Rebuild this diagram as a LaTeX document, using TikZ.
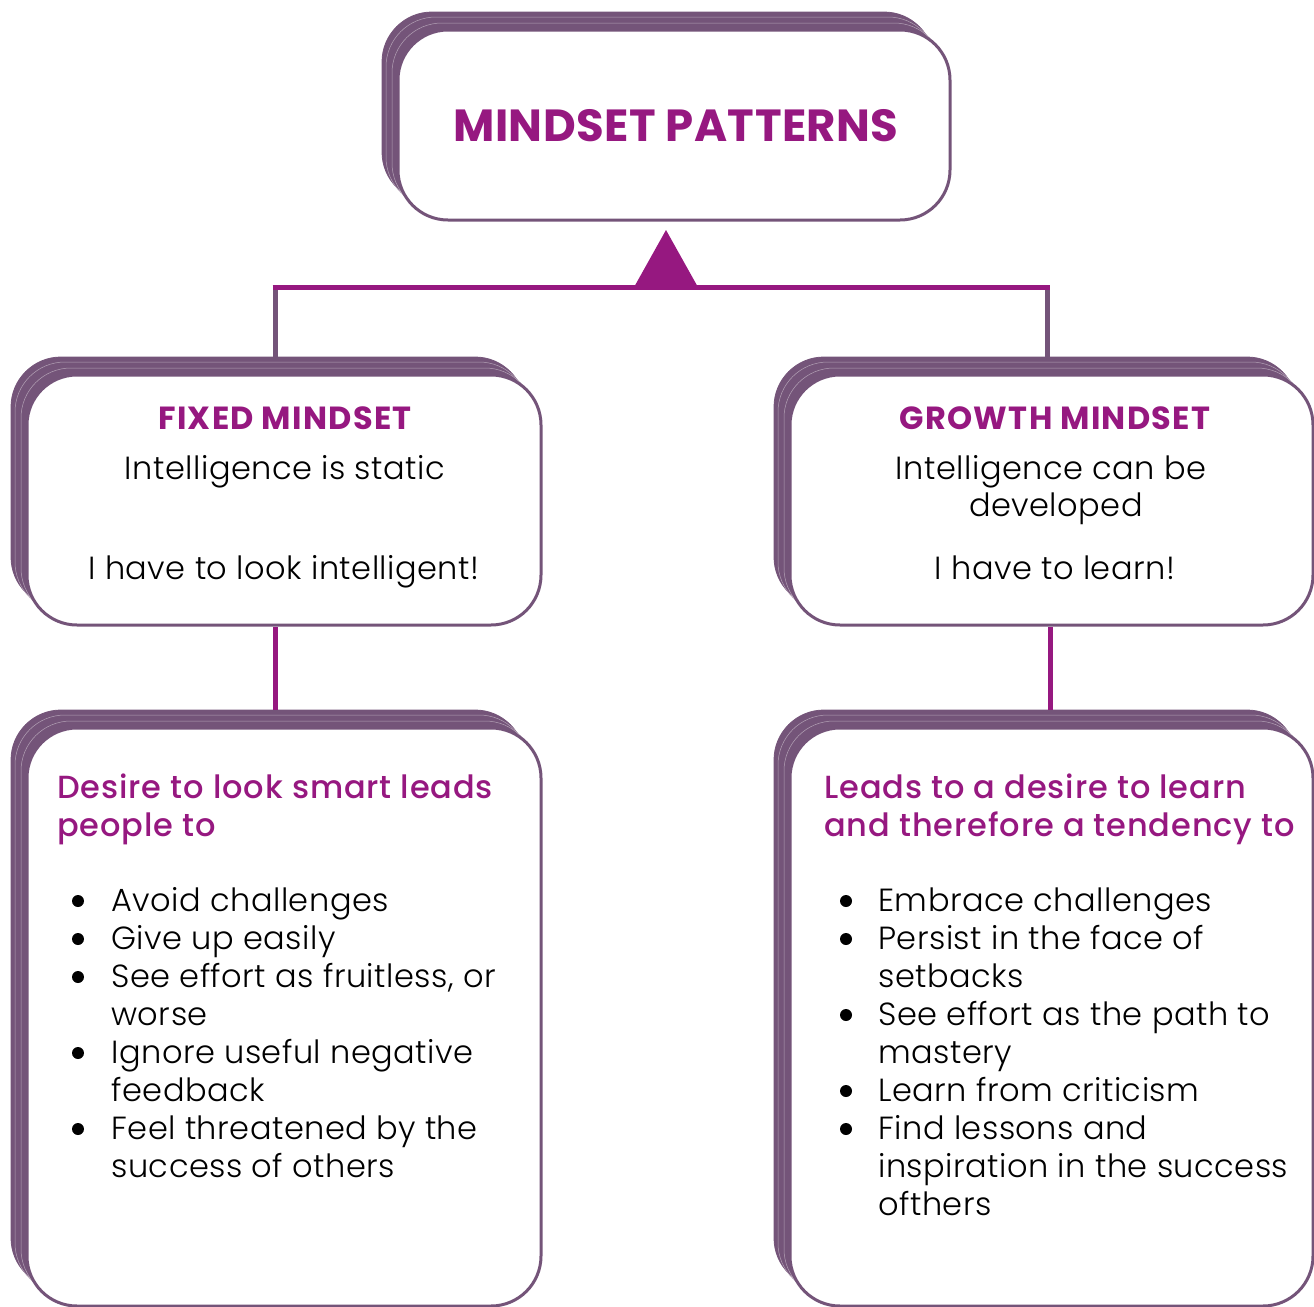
\documentclass[tikz,border=0pt]{standalone}
\usepackage{fontspec}
\setmainfont{Poppins}[UprightFont=* Light, BoldFont=* Bold, LetterSpace=1.5]
\newfontfamily\mediumfont{Poppins Medium}[LetterSpace=2.7]
\newfontfamily\titlefont{Poppins Bold}[LetterSpace=4]
\newfontfamily\headfont{Poppins Bold}[LetterSpace=1]
\usetikzlibrary{positioning}
\definecolor{mindgrey}{RGB}{116,84,121}
\definecolor{mindmagenta}{RGB}{150,24,128}
\tikzset{
    box back/.style={
        fill=mindgrey,
        draw=mindgrey,
        rounded corners=25pt,
        anchor=north west,
        inner sep=0,
        outer sep=0,
    },
    box layer/.style={
        draw=mindgrey!55!white,
        line width=0.25pt,
        rounded corners=25pt,
        anchor=north west,
        inner sep=0,
        outer sep=0,
    },
    box front/.style={
        fill=white,
        draw=mindgrey,
        line width=1.5pt,
        rounded corners=25pt,
        anchor=north west,
        inner sep=0,
        outer sep=0,
    },
    trunk link/.style={
        draw=mindgrey,
        line width=2.5pt,
    },
    branch link/.style={
        draw=mindmagenta,
        line width=2.5pt,
    },
    box title/.style={
        font=\fontsize{16}{19}\selectfont\titlefont,
        text=mindmagenta,
        anchor=base,
        inner sep=0,
    },
    box text/.style={
        font=\fontsize{16}{19}\selectfont,
        anchor=base,
        inner sep=0,
    },
    list head/.style={
        font=\fontsize{16}{19}\selectfont\mediumfont,
        text=mindmagenta,
        anchor=base west,
        inner sep=0,
    },
    list line/.style={
        font=\fontsize{16}{19}\selectfont,
        anchor=base west,
        inner sep=0,
    },
    list dot/.style={
        fill,
        circle,
        minimum size=6pt,
        inner sep=0,
    },
}

\begin{document}
\begin{tikzpicture}[x=0.5pt, y=-0.5pt]
    \useasboundingbox (0,0) rectangle (1314,1307);
    \clip (0,0) rectangle (1314,1307);

    \newcommand\mindbox[5]{
        \node[box back, minimum width=#4*0.5pt, minimum height=#5*0.5pt] (#1 back) at (#2-16, #3-18) {};
        \foreach \o in {6,12}
        {
            \node[box layer, minimum width=#4*0.5pt, minimum height=#5*0.5pt] at (#2-\o, #3-\o-1) {};
        }
        \node[box front, minimum width=#4*0.5pt, minimum height=#5*0.5pt] (#1) at (#2, #3) {};
    }

    \mindbox{top}{398}{30}{552}{190}
    \mindbox{fixed}{27}{375}{514}{250}
    \mindbox{growth}{790}{375}{523}{250}
    \mindbox{fixed list}{27}{728}{514}{578}
    \mindbox{growth list}{790}{728}{523}{578}

    % tree
    \coordinate (bar west) at (275,287);
    \coordinate (bar east) at (1047,287);
    \coordinate (tip) at (666,230);
    \coordinate (fixed drop) at (275,627);
    \coordinate (growth drop) at (1050,627);

    \draw[trunk link] (bar west) -- (bar west |- fixed back.north);
    \draw[trunk link] (bar east) -- (bar east |- growth back.north);
    \draw[branch link] ([xshift=-1.25pt]bar west) -- ([xshift=1.25pt]bar east);
    \fill[mindmagenta] (tip) -- ([xshift=-16.5pt,yshift=-1pt]tip |- bar west) -- ([xshift=16.5pt,yshift=-1pt]tip |- bar west) -- cycle;
    \draw[branch link] (fixed drop) -- (fixed drop |- fixed list back.north);
    \draw[branch link] (growth drop) -- (growth drop |- growth list back.north);

    \node[box title, font=\fontsize{22.5}{27}\selectfont\headfont] (title) at (676,141) {MINDSET PATTERNS};

    \node[box title] (fixed title) at (285,429) {FIXED MINDSET};
    \node[box text] (fixed line a) at (285,479) {Intelligence is static};
    \node[box text] (fixed line b) at (284,579) {I have to look intelligent!};

    \node[box title] (growth title) at (1055,429) {GROWTH MINDSET};
    \node[box text] (growth line a) at (1051,479) {Intelligence can be};
    \node[box text] (growth line b) at (1056,516) {developed};
    \node[box text] (growth line c) at (1055,579) {I have to learn!};

    \node[list head] (fixed head a) at (57,798) {Desire to look smart leads};
    \node[list head] (fixed head b) at (57,836) {people to};
    \foreach \txt [count=\i from 0] in {Avoid challenges, Give up easily, {See effort as fruitless, or}, worse, Ignore useful negative, feedback, Feel threatened by the, success of others}
    {
        \node[list line] (fixed item \i) at (111, 911+38*\i) {\txt};
    }
    \foreach \i in {0,1,2,4,6}
    {
        \node[list dot] (fixed dot \i) at (78, 901+38*\i) {};
    }

    \node[list head] (growth head a) at (824,798) {Leads to a desire to learn};
    \node[list head] (growth head b) at (824,836) {and therefore a tendency to};
    \foreach \txt [count=\i from 0] in {Embrace challenges, Persist in the face of, setbacks, See effort as the path to, mastery, Learn from criticism, Find lessons and, inspiration in the success, ofthers}
    {
        \node[list line] (growth item \i) at (878, 911+38*\i) {\txt};
    }
    \foreach \i in {0,1,3,5,6}
    {
        \node[list dot] (growth dot \i) at (846, 901+38*\i) {};
    }

\end{tikzpicture}
\end{document}
